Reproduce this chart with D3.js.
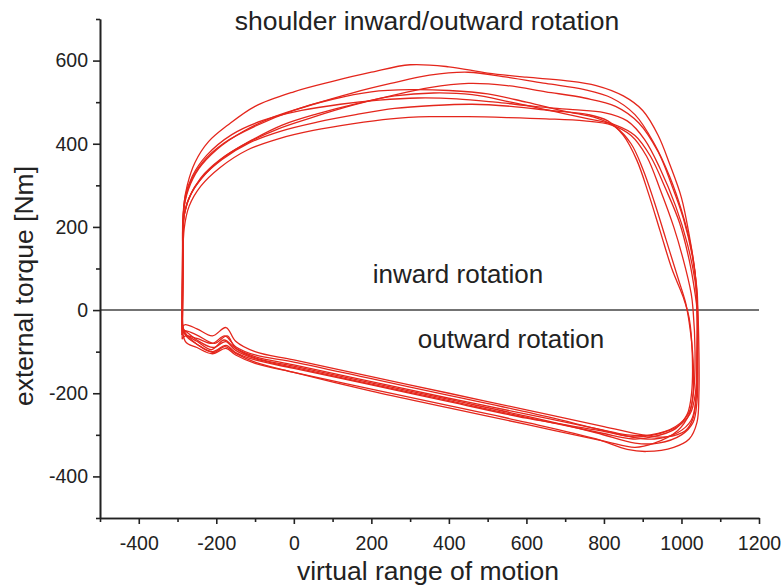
<!DOCTYPE html>
<html>
<head>
<meta charset="utf-8">
<script src="https://cdn.jsdelivr.net/npm/d3@7"></script>
<style>
  body { margin: 0; background: #fff; }
  svg { display: block; font-family: "Liberation Sans", Arial, sans-serif; }
</style>
</head>
<body>
<div id="chart"></div>
<script>
// axis ticks
const xTicks = [-400, -200, 0, 200, 400, 600, 800, 1000, 1200];
const xMinorTicks = [-500, -300, -100, 100, 300, 500, 700, 900, 1100];
const yTicks = [-400, -200, 0, 200, 400, 600];
const yMinorTicks = [-500, -300, -100, 100, 300, 500, 700];

// torque loops, [virtual range of motion, external torque]
const loop1 = [[-288,-40],[-287,60],[-286,160],[-284,250],[-275,300],[-255,355],[-220,405],[-170,445],[-100,490],[0,525],[100,550],[200,572],[300,590],[400,585],[500,570],[600,560],[700,552],[780,540],[850,515],[900,480],[940,420],[970,350],[1000,270],[1020,180],[1035,90],[1040,0],[1040,-100],[1038,-200],[1030,-260],[1010,-290],[960,-305],[900,-300],[800,-280],[600,-240],[400,-200],[200,-160],[0,-120],[-100,-100],[-150,-75],[-175,-42],[-210,-62],[-250,-45],[-280,-35],[-288,-40]];
const loop2 = [[-289,-60],[-288,50],[-287,150],[-285,235],[-272,290],[-245,340],[-200,385],[-130,430],[-50,465],[50,495],[150,522],[250,545],[350,565],[450,572],[550,560],[650,545],[750,530],[820,510],[880,470],[930,400],[970,320],[1000,240],[1025,150],[1038,60],[1041,0],[1042,-120],[1040,-220],[1030,-270],[1000,-300],[940,-320],[880,-320],[780,-295],[600,-255],[400,-215],[200,-175],[0,-135],[-100,-115],[-150,-92],[-172,-62],[-205,-80],[-250,-60],[-280,-50],[-289,-60]];
const loop3 = [[-288,-70],[-288,40],[-287,140],[-285,215],[-270,270],[-240,318],[-190,362],[-120,402],[-40,436],[50,464],[150,492],[250,515],[350,535],[450,545],[550,540],[650,525],[750,510],[830,490],[890,450],[940,380],[975,300],[1005,220],[1028,130],[1040,50],[1042,0],[1041,-100],[1038,-210],[1025,-265],[990,-295],[930,-310],[870,-305],[780,-285],[600,-245],[400,-205],[200,-165],[0,-125],[-100,-108],[-150,-88],[-178,-62],[-210,-80],[-250,-68],[-280,-62],[-288,-70]];
const loop4 = [[-287,-20],[-286,80],[-285,170],[-282,232],[-265,280],[-230,326],[-180,368],[-110,408],[-30,445],[60,472],[160,496],[260,515],[360,522],[460,518],[560,500],[660,480],[760,460],[830,445],[880,420],[920,370],[960,290],[995,210],[1020,120],[1035,40],[1040,0],[1040,-110],[1036,-200],[1022,-250],[990,-280],[930,-300],[880,-305],[790,-290],[600,-260],[400,-220],[200,-180],[0,-140],[-100,-120],[-150,-102],[-175,-85],[-210,-100],[-250,-82],[-280,-60],[-287,-20]];
const loop5 = [[-288,-50],[-287,40],[-286,120],[-283,195],[-270,250],[-240,298],[-190,343],[-120,385],[-40,412],[50,432],[150,448],[250,460],[350,465],[450,465],[550,463],[650,460],[750,455],[820,445],[870,420],[910,370],[945,290],[980,200],[1005,120],[1025,40],[1030,0],[1035,-100],[1032,-190],[1020,-245],[985,-280],[920,-300],[860,-300],[780,-285],[600,-250],[400,-212],[200,-172],[0,-132],[-100,-112],[-150,-92],[-180,-72],[-212,-95],[-250,-75],[-280,-58],[-288,-50]];
const loop6 = [[-288,-30],[-287,70],[-286,170],[-283,250],[-268,305],[-235,356],[-180,402],[-100,442],[0,480],[100,507],[200,525],[300,530],[400,528],[500,520],[600,500],[700,478],[780,462],[830,440],[870,400],[900,340],[930,260],[960,170],[990,80],[1010,20],[1020,-30],[1030,-120],[1030,-200],[1020,-250],[990,-290],[930,-320],[880,-330],[800,-315],[600,-275],[400,-235],[200,-195],[0,-150],[-100,-125],[-150,-104],[-178,-88],[-208,-102],[-250,-82],[-280,-55],[-288,-30]];
const loop7 = [[-287,-10],[-286,90],[-285,190],[-281,270],[-262,322],[-225,372],[-160,422],[-80,456],[20,480],[120,495],[220,505],[320,510],[420,508],[520,500],[620,490],[720,482],[800,475],[860,455],[905,410],[945,340],[985,250],[1015,160],[1035,70],[1042,0],[1045,-100],[1045,-200],[1040,-270],[1020,-310],[980,-330],[910,-340],[860,-335],[780,-310],[600,-270],[400,-230],[200,-190],[0,-150],[-100,-128],[-150,-108],[-175,-92],[-210,-105],[-250,-90],[-280,-75],[-287,-10]];
const loop8 = [[-288,-45],[-287,60],[-286,150],[-284,222],[-268,274],[-235,320],[-185,362],[-115,402],[-35,430],[60,452],[160,470],[260,485],[360,492],[460,495],[560,490],[660,480],[760,470],[810,455],[850,420],[885,360],[915,280],[945,190],[975,100],[1005,30],[1020,-20],[1028,-110],[1026,-200],[1015,-250],[985,-285],[925,-305],[875,-310],[790,-295],[600,-258],[400,-218],[200,-178],[0,-138],[-100,-117],[-150,-97],[-176,-76],[-208,-90],[-250,-72],[-280,-50],[-288,-45]];
const loops = [loop1, loop2, loop3, loop4, loop5, loop6, loop7, loop8];

const width = 784, height = 588;
const margin = { top: 19, right: 25, bottom: 70, left: 100 };

const svg = d3.select("#chart").append("svg")
    .attr("width", width)
    .attr("height", height);

const x = d3.scaleLinear().domain([-500, 1200]).range([margin.left, width - margin.right]);
const y = d3.scaleLinear().domain([-500, 700]).range([height - margin.bottom, margin.top]);

const ink = "#222";
const plain = d => String(d); // "-400", "1200", no thousands comma

// zero line
svg.append("line")
    .attr("x1", x(-500)).attr("x2", x(1200))
    .attr("y1", y(0)).attr("y2", y(0))
    .attr("stroke", "#444")
    .attr("stroke-width", 1.5);

// loops
const line = d3.line()
    .x(d => x(d[0]))
    .y(d => y(d[1]))
    .curve(d3.curveCatmullRom.alpha(0.5));

svg.append("g")
    .selectAll("path")
    .data(loops)
    .join("path")
    .attr("d", line)
    .attr("fill", "none")
    .attr("stroke", "#e4261c")
    .attr("stroke-width", 1.3);

// axes
function styleAxis(g) {
    g.selectAll("path.domain").attr("stroke", ink).attr("stroke-width", 1.6);
    g.selectAll(".tick line").attr("stroke", ink).attr("stroke-width", 1.6);
    g.selectAll(".tick text").attr("fill", ink).style("font-size", "19.5px")
        .style("font-family", "'Liberation Sans', Arial, sans-serif");
}

svg.append("g")
    .attr("transform", `translate(0,${y(-500)})`)
    .call(d3.axisBottom(x).tickValues(xMinorTicks).tickSize(4).tickSizeOuter(0).tickFormat(""))
    .call(styleAxis);

svg.append("g")
    .attr("transform", `translate(0,${y(-500)})`)
    .call(d3.axisBottom(x).tickValues(xTicks).tickSize(6).tickPadding(12).tickSizeOuter(0).tickFormat(plain))
    .call(styleAxis);

svg.append("g")
    .attr("transform", `translate(${x(-500)},0)`)
    .call(d3.axisLeft(y).tickValues(yMinorTicks).tickSize(4).tickSizeOuter(0).tickFormat(""))
    .call(styleAxis);

svg.append("g")
    .attr("transform", `translate(${x(-500)},0)`)
    .call(d3.axisLeft(y).tickValues(yTicks).tickSize(7).tickPadding(5).tickSizeOuter(0).tickFormat(plain))
    .call(styleAxis);

// labels
function label(text, px, py, size, rotate) {
    const t = svg.append("text")
        .attr("text-anchor", "middle")
        .attr("fill", ink)
        .style("font-size", size + "px")
        .text(text);
    if (rotate) t.attr("transform", `translate(${px},${py}) rotate(-90)`);
    else t.attr("x", px).attr("y", py);
    return t;
}

label("shoulder inward/outward rotation", 427, 30, 26.5);
label("inward rotation", 458, 283, 26);
label("outward rotation", 511, 348, 26);
label("virtual range of motion", 428, 580, 26.5);
label("external torque [Nm]", 33, 286, 26.5, true);
</script>
</body>
</html>
